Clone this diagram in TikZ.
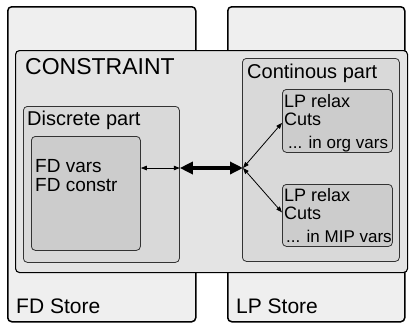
\documentclass[tikz,border=0pt]{standalone}
\usepackage{fontspec}
\setmainfont{Liberation Sans}
\usetikzlibrary{arrows.meta}
\definecolor{storefill}{HTML}{EFEFEF}
\definecolor{consfill}{HTML}{E4E4E4}
\definecolor{partfill}{HTML}{D9D9D9}
\definecolor{innerfill}{HTML}{CCCCCC}
\definecolor{edge}{HTML}{333333}
\tikzset{
  storebox/.style={draw=black, line width=1.5pt, fill=storefill, rounded corners=4pt, anchor=north west, inner sep=0pt},
  consbox/.style={draw=black, line width=1.1pt, fill=consfill, rounded corners=4pt, anchor=north west, inner sep=0pt},
  partbox/.style={draw=edge, line width=0.8pt, fill=partfill, rounded corners=4pt, anchor=north west, inner sep=0pt},
  innerbox/.style={draw=edge, line width=0.8pt, fill=innerfill, rounded corners=4pt, anchor=north west, inner sep=0pt},
  lbl/.style={anchor=base west, inner sep=0pt, font=\fontsize{#1}{#1}\selectfont},
  lbl/.default=20,
  thinarrow/.style={line width=0.8pt, {Triangle[length=6pt,width=4.5pt]}-{Triangle[length=6pt,width=4.5pt]}},
  thickarrow/.style={line width=3.5pt, {Triangle[length=13pt,width=12pt]}-{Triangle[length=13pt,width=12pt]}},
}
\begin{document}
\begin{tikzpicture}[x=1pt,y=-1pt]
\useasboundingbox[fill=white] (0,0) rectangle (410,325);
% stores
\node[storebox, minimum width=188pt, minimum height=315pt] (fdstore) at (7,6) {};
\node[storebox, minimum width=177pt, minimum height=315pt] (lpstore) at (227,6) {};
\node[lbl=21] (fdstoret) at (16,313) {FD Store};
\node[lbl=21] (lpstoret) at (236,313) {LP Store};
% constraint
\node[consbox, minimum width=392pt, minimum height=222pt] (cons) at (15,50) {};
\node[lbl=23] (const) at (25,74) {CONSTRAINT};
% discrete part
\node[partbox, minimum width=156pt, minimum height=156pt] (disc) at (23,106) {};
\node[lbl=20] (disct) at (27,125) {Discrete part};
\node[innerbox, minimum width=109pt, minimum height=114pt] (fd) at (31,136) {};
\node[lbl=19] (fdv) at (35,172) {FD vars};
\node[lbl=19] (fdc) at (35,191) {FD constr};
% continuous part
\node[partbox, minimum width=157pt, minimum height=203pt] (cont) at (242,58) {};
\node[lbl=20] (contt) at (247,78) {Continous part};
\node[innerbox, minimum width=110pt, minimum height=63pt] (lp1) at (282,89) {};
\node[lbl=18] (lp1a) at (284,107) {LP relax};
\node[lbl=18] (lp1b) at (284,125) {Cuts};
\node[lbl=17] (lp1c) at (288,148) {... in org vars};
\node[innerbox, minimum width=110pt, minimum height=62pt] (lp2) at (282,184) {};
\node[lbl=18] (lp2a) at (284,201) {LP relax};
\node[lbl=18] (lp2b) at (284,219) {Cuts};
\node[lbl=17] (lp2c) at (286,242) {... in MIP vars};
% connectors
\coordinate (hub) at (243,168);
\draw[thinarrow] (fd.east |- hub) -- (disc.east |- hub);
\draw[thickarrow] (disc.east |- hub) -- (hub);
\draw[thinarrow] (hub) -- ([yshift=-2pt]lp1.west);
\draw[thinarrow] (hub) -- ([yshift=3pt]lp2.west);
\end{tikzpicture}
\end{document}
